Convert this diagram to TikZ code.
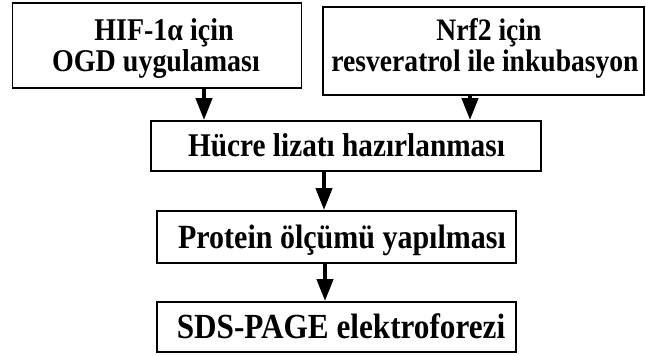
\documentclass[tikz,border=0pt]{standalone}
\usepackage{graphicx}
\usepackage{fontspec}
\setmainfont{Liberation Serif}
\usetikzlibrary{arrows.meta}

% bold label, set a little taller than wide
\newcommand{\tallbf}[1]{\scalebox{1}[1.13]{#1}}

\tikzset{
  stepbox/.style={draw=black, line width=1.8pt, inner sep=0pt},
  steptext/.style={inner sep=0pt, anchor=base, font=\fontsize{#1}{#1}\selectfont\bfseries},
  flowarrow/.style={line width=4.2pt, -{Triangle[width=16pt,length=22pt]}}
}

\begin{document}
\begin{tikzpicture}[x=1pt, y=-1pt]
  \useasboundingbox (0,0) rectangle (646,356);

  % input branches
  \node[stepbox, minimum width=289pt, minimum height=85pt] (ogd) at (157,45.5) {};
  \node[steptext=28] (ogd-l1) at (164,40.5) {\tallbf{HIF-1α için}};
  \node[steptext=28] (ogd-l2) at (156,71) {\tallbf{OGD uygulaması}};

  \node[stepbox, minimum width=321pt, minimum height=88pt] (rsv) at (483.5,51) {};
  \node[steptext=27.6] (rsv-l1) at (489,40.5) {\tallbf{Nrf2 için}};
  \node[steptext=27.6] (rsv-l2) at (485,71) {\tallbf{resveratrol ile inkubasyon}};

  % main sequence
  \node[stepbox, minimum width=390pt, minimum height=50pt] (lyz) at (346,146) {};
  \node[steptext=29.3] (lyz-t) at (346.5,156.5) {\tallbf{Hücre lizatı hazırlanması}};

  \node[stepbox, minimum width=359pt, minimum height=52pt] (prt) at (336.5,237) {};
  \node[steptext=30] (prt-t) at (342,248) {\tallbf{Protein ölçümü yapılması}};

  \node[stepbox, minimum width=359pt, minimum height=50pt] (sds) at (336.5,327) {};
  \node[steptext=31.2] (sds-t) at (341,338.5) {\tallbf{SDS-PAGE elektroforezi}};

  % connectors
  \draw[flowarrow] ([xshift=47pt]ogd.south) -- ([xshift=47pt]ogd.south |- lyz.north);
  \draw[flowarrow] ([xshift=-13.5pt]rsv.south) -- ([xshift=-13.5pt]rsv.south |- lyz.north);
  \draw[flowarrow] ([xshift=-22pt]lyz.south) -- ([xshift=-22pt]lyz.south |- prt.north);
  \draw[flowarrow] ([xshift=-11.5pt]prt.south) -- ([xshift=-11.5pt]prt.south |- sds.north);
\end{tikzpicture}
\end{document}
